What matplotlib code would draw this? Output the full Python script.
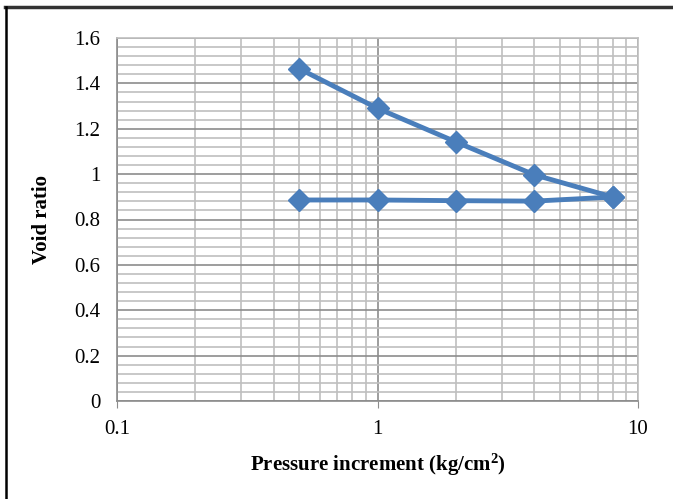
import matplotlib
matplotlib.use("Agg")
import matplotlib.pyplot as plt
from matplotlib.lines import Line2D
from matplotlib.ticker import FixedLocator, NullFormatter, MultipleLocator

# ---------- DATA ----------
load_pressure = [0.5, 1, 2, 4, 8]
load_void = [1.465, 1.290, 1.142, 0.997, 0.899]
unload_pressure = [8, 4, 2, 1, 0.5]
unload_void = [0.899, 0.881, 0.883, 0.886, 0.886]

x_ticks = [0.1, 1, 10]
x_tick_labels = ["0.1", "1", "10"]
y_ticks = [0, 0.2, 0.4, 0.6, 0.8, 1.0, 1.2, 1.4, 1.6]
y_tick_labels = ["0", "0.2", "0.4", "0.6", "0.8", "1", "1.2", "1.4", "1.6"]

BLUE = "#4a7ebb"

plt.rcParams["font.family"] = ["Liberation Serif", "DejaVu Serif"]
plt.rcParams["mathtext.fontset"] = "custom"
plt.rcParams["mathtext.rm"] = "Liberation Serif"
plt.rcParams["mathtext.bf"] = "Liberation Serif:bold"

fig = plt.figure(figsize=(6.73, 4.99), dpi=100)
ax = fig.add_axes([117 / 673, 1 - 401 / 499, (638 - 117) / 673, (401 - 38) / 499])

ax.set_xscale("log")
ax.set_xlim(0.1, 10)
ax.set_ylim(0, 1.6)

# ---------- GRID ----------
minor_x = [m * d for d in (0.1, 1) for m in range(2, 10)]
ax.xaxis.set_minor_locator(FixedLocator(minor_x))
ax.xaxis.set_minor_formatter(NullFormatter())
ax.yaxis.set_minor_locator(MultipleLocator(0.04))
ax.grid(True, which="minor", color="#bfbfbf", linewidth=1.2)
ax.grid(True, which="major", color="#8c8c8c", linewidth=1.2)
ax.set_axisbelow(True)

for s in ["top", "right"]:
    ax.spines[s].set_color("#bfbfbf")
    ax.spines[s].set_linewidth(1.2)
for s in ["left", "bottom"]:
    ax.spines[s].set_color("#8c8c8c")
    ax.spines[s].set_linewidth(1.2)

# ---------- LINES ----------
ax.plot(load_pressure, load_void, color=BLUE, linewidth=3.5,
        marker="D", markersize=11, clip_on=False, zorder=3)
ax.plot(unload_pressure, unload_void, color=BLUE, linewidth=3.5,
        marker="D", markersize=11, clip_on=False, zorder=3)

# ---------- TICKS ----------
ax.set_xticks(x_ticks)
ax.set_xticklabels(x_tick_labels)
ax.set_yticks(y_ticks)
ax.set_yticklabels(y_tick_labels)
ax.tick_params(axis="both", which="major", labelsize=15, length=5,
               color="#8c8c8c", direction="out")
ax.tick_params(axis="x", which="major", pad=9)
ax.tick_params(axis="y", which="major", length=0, pad=12)
ax.tick_params(axis="both", which="minor", length=0)

ax.set_xlabel(r"Pressure increment (kg/cm$\mathbf{^2}$)", fontsize=15,
              fontweight="bold", labelpad=9)
ax.set_ylabel("Void ratio", fontsize=15, fontweight="bold", labelpad=16)

# ---------- FRAME ----------
fig.add_artist(Line2D([5 / 673, 1], [1 - 7 / 499, 1 - 7 / 499],
                      transform=fig.transFigure, color="#333333", linewidth=2.5))
fig.add_artist(Line2D([6 / 673, 6 / 673], [0, 1 - 7 / 499],
                      transform=fig.transFigure, color="black", linewidth=1.8))

fig.savefig("out.png", dpi=100)
